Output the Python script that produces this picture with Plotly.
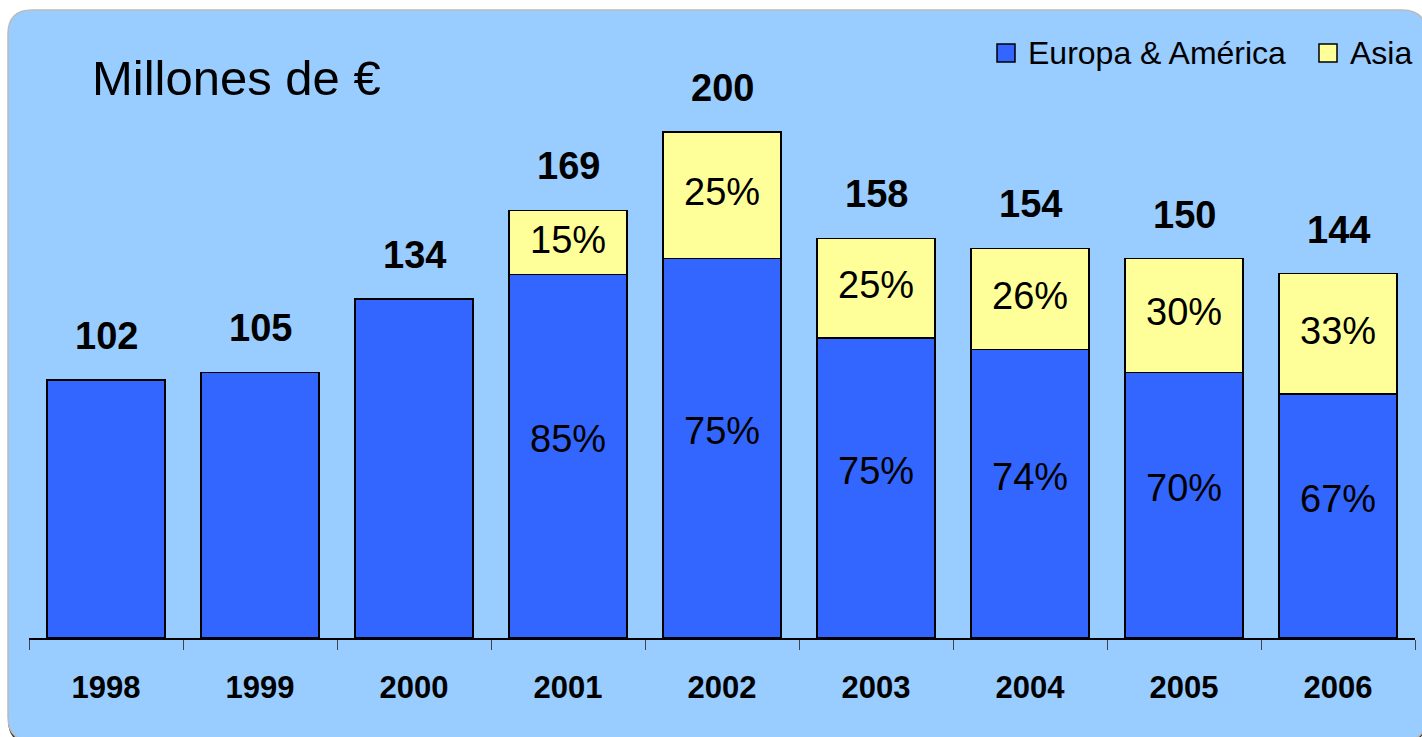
import plotly.graph_objects as go

years = ['1998', '1999', '2000', '2001', '2002', '2003', '2004', '2005', '2006']
totals = [102, 105, 134, 169, 200, 158, 154, 150, 144]
europa_pct = [100, 100, 100, 85, 75, 75, 74, 70, 67]
asia_pct = [0, 0, 0, 15, 25, 25, 26, 30, 33]
series_names = ["Europa &amp; América", "Asia"]

europa = [t * p / 100 for t, p in zip(totals, europa_pct)]
asia = [t * p / 100 if p > 0 else None for t, p in zip(totals, asia_pct)]

W, H = 1422, 737
ML, MR, MT, MB = 29, 7, 26, 99
PW, PH = W - ML - MR, H - MT - MB
YMAX = PH / 2.53

FONT = "Liberation Sans, Arial, sans-serif"
BLUE = "#3366FF"
YELLOW = "#FFFF99"
PANEL = "#99CCFF"
COLORS = [BLUE, YELLOW]


def px(x):
    return (x - ML) / PW


def py(y):
    return (H - MB - y) / PH


def rrect(l, t, r, b, rad):
    return (f"M {px(l+rad)},{py(t)} L {px(r-rad)},{py(t)} Q {px(r)},{py(t)} {px(r)},{py(t+rad)} "
            f"L {px(r)},{py(b-rad)} Q {px(r)},{py(b)} {px(r-rad)},{py(b)} "
            f"L {px(l+rad)},{py(b)} Q {px(l)},{py(b)} {px(l)},{py(b-rad)} "
            f"L {px(l)},{py(t+rad)} Q {px(l)},{py(t)} {px(l+rad)},{py(t)} Z")


fig = go.Figure()
fig.add_trace(go.Bar(x=years, y=europa, name=series_names[0],
                     marker=dict(color=BLUE, line=dict(color="black", width=1.5)),
                     hoverinfo="skip", showlegend=False))
fig.add_trace(go.Bar(x=years, y=asia, name=series_names[1],
                     marker=dict(color=YELLOW, line=dict(color="black", width=1.5)),
                     hoverinfo="skip", showlegend=False))

LBL = 38
annotations = []
for i, (t, e, a, ep, ap) in enumerate(zip(totals, europa, asia, europa_pct, asia_pct)):
    annotations.append(dict(x=i, y=t, text=f"<b>{t}</b>", showarrow=False,
                            yshift=44, font=dict(size=LBL, color="black", family=FONT)))
    if ap > 0:
        annotations.append(dict(x=i, y=e / 2, text=f"{ep}%", showarrow=False,
                                yshift=17, font=dict(size=LBL, color="black", family=FONT)))
        annotations.append(dict(x=i, y=e + a / 2, text=f"{ap}%", showarrow=False,
                                yshift=3, font=dict(size=LBL, color="black", family=FONT)))

annotations.append(dict(xref="paper", yref="paper", x=px(90), y=py(78), xanchor="left",
                        yanchor="middle", text="Millones de €", showarrow=False,
                        font=dict(size=49, color="black", family=FONT)))

shapes = [
    dict(type="path", xref="paper", yref="paper", layer="below",
         path=rrect(8, 13, 1426, 744, 24), fillcolor="#333333", line=dict(width=0)),
    dict(type="path", xref="paper", yref="paper", layer="below",
         path=rrect(8, 10, 1426, 741, 24), fillcolor=PANEL,
         line=dict(color="#BBBBBB", width=1.5)),
]

# custom legend (square swatches + labels)
legend_sq_x = [997, 1319]
for name, col, sx in zip(series_names, COLORS, legend_sq_x):
    shapes.append(dict(type="rect", xref="paper", yref="paper",
                       x0=px(sx), x1=px(sx + 18), y0=py(62), y1=py(44),
                       fillcolor=col, line=dict(color="black", width=1.5)))
    annotations.append(dict(xref="paper", yref="paper", x=px(sx + 29), y=py(53),
                            xanchor="left", yanchor="middle", text=name, showarrow=False,
                            font=dict(size=32, color="black", family=FONT)))

fig.update_layout(
    width=W, height=H, autosize=False,
    margin=dict(l=ML, r=MR, t=MT, b=MB),
    paper_bgcolor="white", plot_bgcolor="rgba(0,0,0,0)",
    barmode="stack", bargap=0.234,
    font=dict(family=FONT, color="black"),
    showlegend=False,
    annotations=annotations,
    shapes=shapes,
    xaxis=dict(type="category", range=[-0.5, len(years) - 0.5], showline=True,
               linecolor="black", linewidth=1.5,
               ticks="outside", ticklen=10, tickcolor="#444444", tickwidth=1,
               tickson="boundaries", showgrid=False, zeroline=False,
               tickfont=dict(size=31, family=FONT, color="black"),
               tickvals=years, ticktext=[f"<b>{y}</b>" for y in years],
               ticklabelstandoff=21),
    yaxis=dict(visible=False, range=[0, YMAX], showgrid=False, zeroline=False),
)

fig.write_html("out.html", config={"displayModeBar": False},
               post_script="document.body.style.margin='0';document.body.style.overflow='hidden';")
